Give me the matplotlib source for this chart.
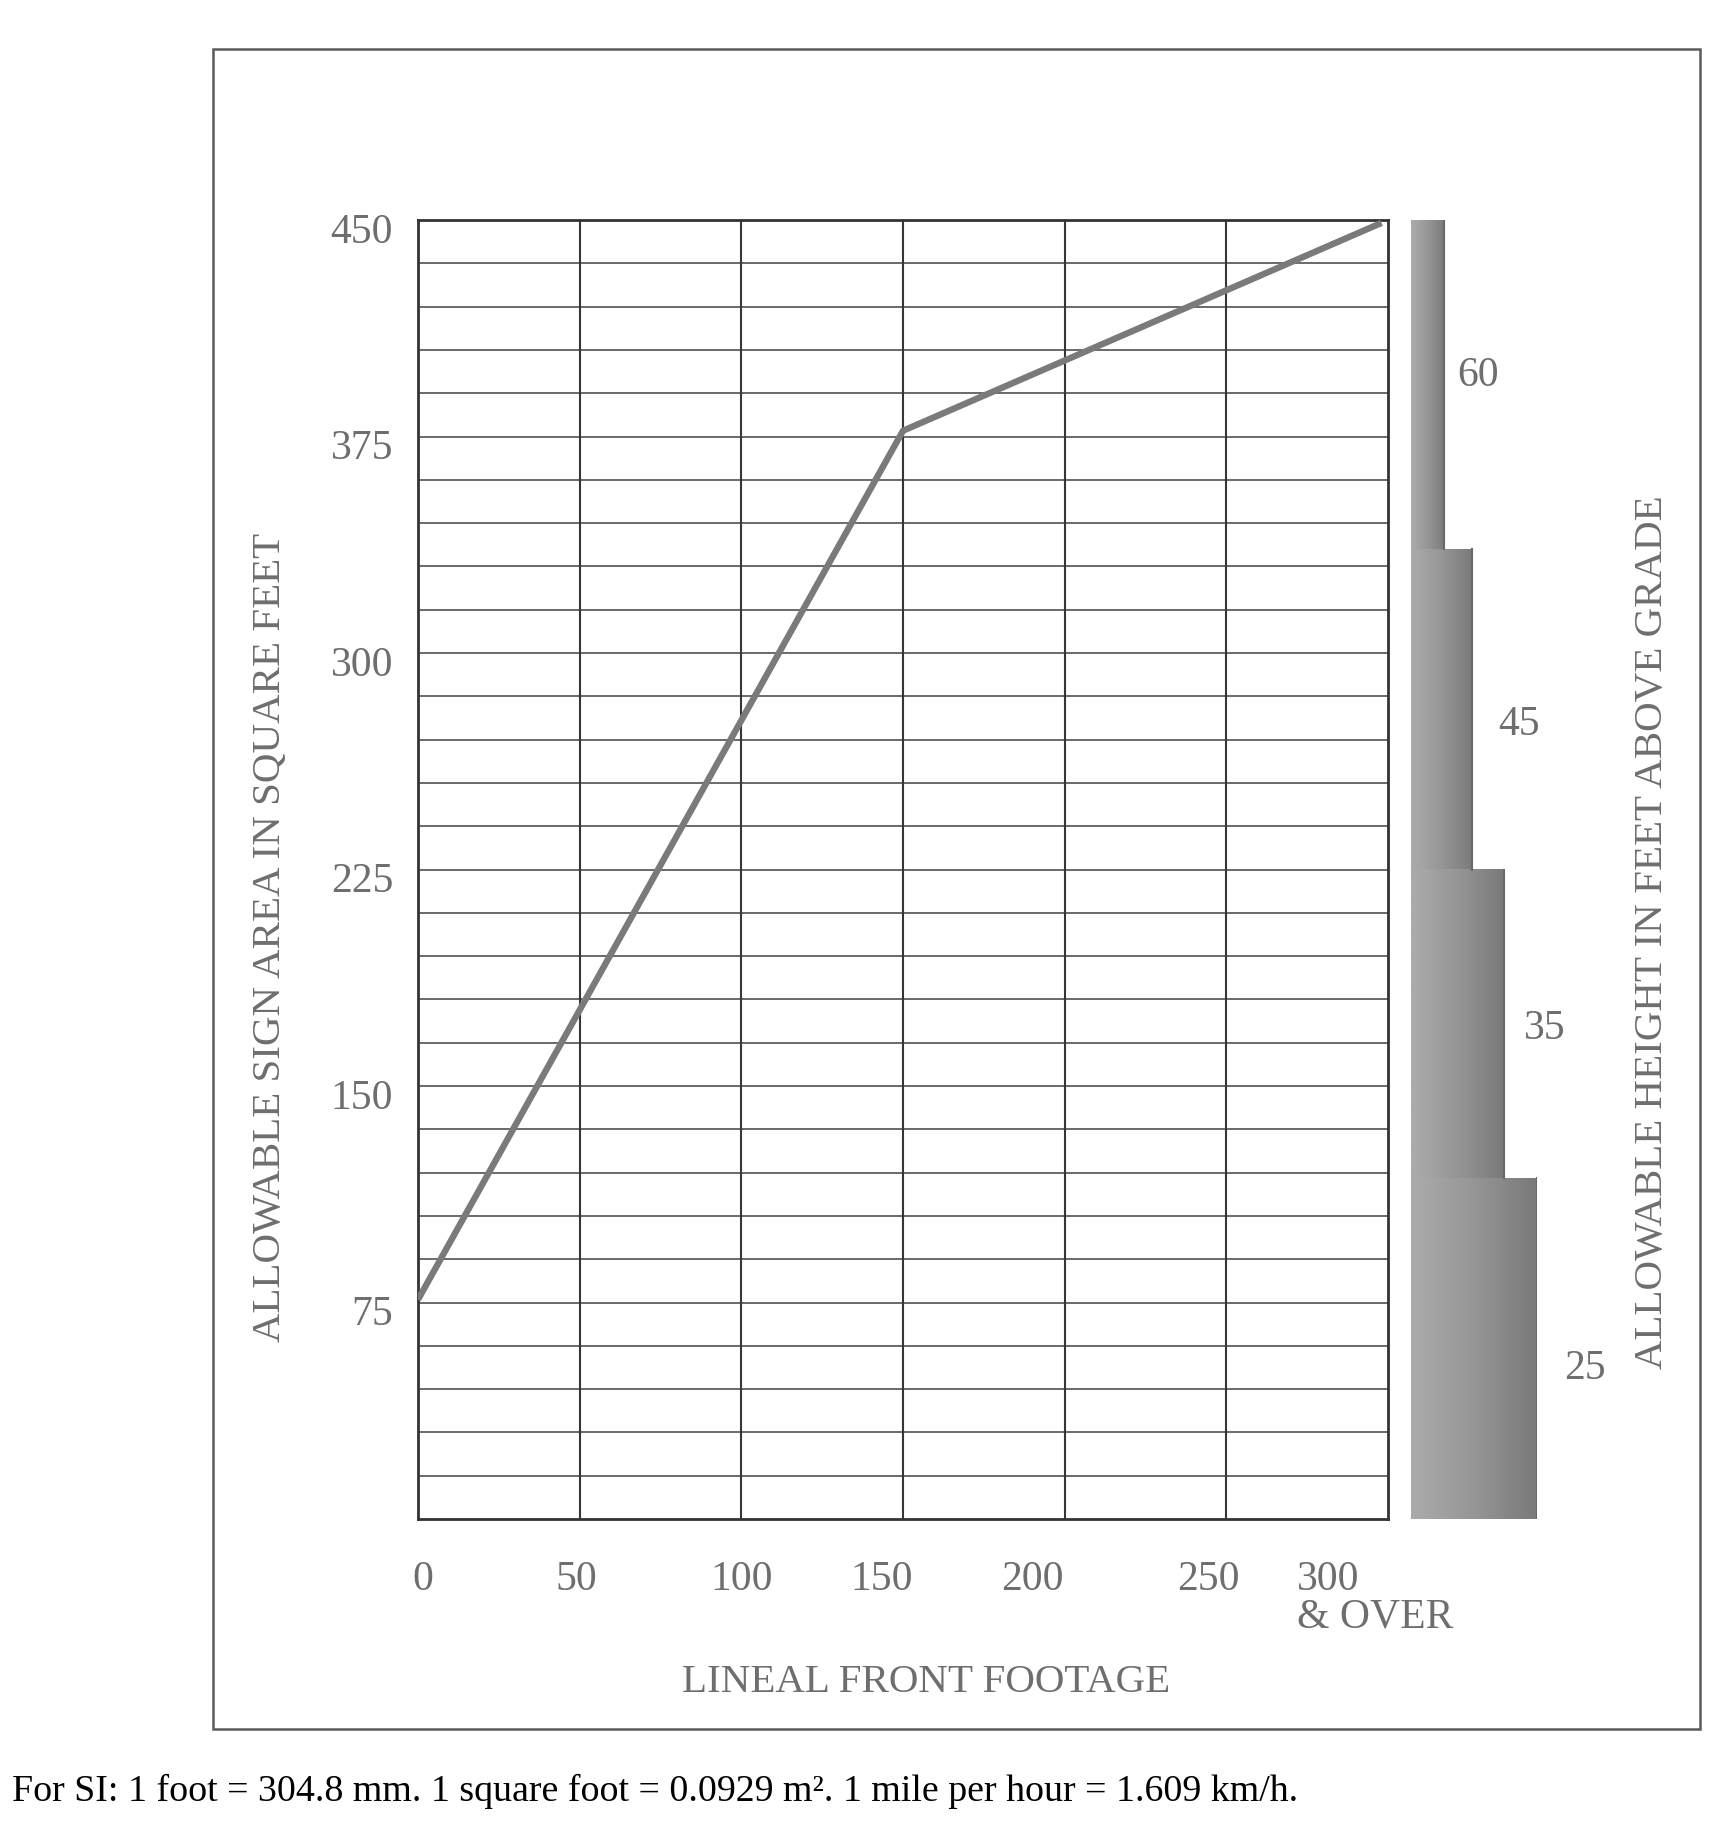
import numpy as np
import matplotlib
matplotlib.use("Agg")
import matplotlib.pyplot as plt
from matplotlib.patches import Rectangle
from matplotlib.colors import LinearSegmentedColormap
from matplotlib.transforms import ScaledTranslation

# ---------------- data ----------------
footage = [0, 150, 298]            # lineal front footage
sign_area = [76, 377, 449]         # allowable sign area (sq ft)

x_grid = [0, 50, 100, 150, 200, 250, 300]
x_labels = ["0", "50", "100", "150", "200", "250", "300\n& OVER"]
y_ticks = [75, 150, 225, 300, 375, 450]
y_labels = ["75", "150", "225", "300", "375", "450"]

height_ft = ["25", "35", "45", "60"]          # allowable height labels
zone_bottom = [0, 118, 225, 336]               # zone limits on sign-area scale
zone_top = [118, 225, 336, 450]
zone_extent = [4.0, 2.95, 1.95, 1.05]         # stepped bar widths

# ---------------- layout / style ----------------
label_gap = [0.86, 0.63, 0.82, 0.42]           # horizontal gap of height labels
label_y = [52, 170, 275, 396]                  # vertical spot of height labels
x_offsets_px = [5, -3, 0, -21, -32, -18, -91]

W, H, DPI = 1735, 1837, 100
plt.rcParams['font.family'] = ['Liberation Serif', 'DejaVu Serif']
TXT = '#6e6e6e'
GRID_H = '#646464'
GRID_V = '#363636'
FS_T = 30
FS_L = 29.5

fig = plt.figure(figsize=(W / DPI, H / DPI), dpi=DPI)
fig.patch.set_facecolor('white')

# outer border
fig.patches.append(Rectangle((213 / W, 1 - 1729 / H), (1700 - 213) / W, (1729 - 49) / H,
                             transform=fig.transFigure, fill=False,
                             edgecolor='#5a5a5a', lw=1.8, zorder=0))

# main axes
L, R, T, B = 418, 1388, 220, 1519
ax = fig.add_axes([L / W, 1 - B / H, (R - L) / W, (B - T) / H])
ax.set_xlim(0, 300)
ax.set_ylim(0, 450)

for yv in np.arange(15, 450, 15):
    ax.axhline(yv, color=GRID_H, lw=1.35, zorder=1)
for xv in x_grid[1:-1]:
    ax.axvline(xv, color=GRID_V, lw=1.5, zorder=1)
for s in ax.spines.values():
    s.set_color('#333333')
    s.set_linewidth(2.0)

ax.plot(footage, sign_area, color='#7a7a7a', lw=4.6, solid_capstyle='butt', zorder=3)

ax.set_xticks(x_grid)
ax.set_xticklabels(x_labels, fontsize=FS_T, color=TXT, linespacing=0.95)
ax.set_yticks(y_ticks)
ax.set_yticklabels(y_labels, fontsize=FS_T, color=TXT)
ax.tick_params(axis='both', length=0)
ax.tick_params(axis='x', pad=30)
ax.tick_params(axis='y', pad=18)

for lab, dx in zip(ax.get_xticklabels(), x_offsets_px):
    lab.set_transform(lab.get_transform() + ScaledTranslation(dx / DPI, 0, fig.dpi_scale_trans))
lab_last = ax.get_xticklabels()[-1]
lab_last.set_horizontalalignment('left')
lab_last.set_multialignment('left')
for lab in ax.get_yticklabels():
    lab.set_transform(lab.get_transform() + ScaledTranslation(0, -8 / DPI, fig.dpi_scale_trans))

# stepped height bar
BL, BR = 1411, 1537
axb = fig.add_axes([BL / W, 1 - B / H, (BR - BL) / W, (B - T) / H])
axb.set_xlim(0, 4.0)
axb.set_ylim(0, 450)
axb.axis('off')

cmap = LinearSegmentedColormap.from_list('g', ['#ababab', '#969696', '#7a7a7a'])
grad = np.linspace(0, 1, 64).reshape(1, -1)
for lo, hi, ext, lab, gap, ly in zip(zone_bottom, zone_top, zone_extent, height_ft,
                                     label_gap, label_y):
    rect = Rectangle((0, lo), ext, hi - lo, facecolor='none', edgecolor='none')
    axb.add_patch(rect)
    im = axb.imshow(grad, cmap=cmap, aspect='auto', extent=[0, ext, lo, hi],
                    interpolation='bilinear', zorder=2)
    im.set_clip_path(rect)
    axb.plot([ext, ext], [lo, hi], color='#686868', lw=1.5, zorder=3)
    axb.text(ext + gap, ly, lab, fontsize=FS_T, color=TXT,
             ha='left', va='center', clip_on=False)

# axis titles
fig.text(270 / W, 1 - 937 / H, "ALLOWABLE SIGN AREA IN SQUARE FEET", rotation=90,
         fontsize=FS_L, color=TXT, ha='center', va='center')
fig.text(1652 / W, 1 - 932 / H, "ALLOWABLE HEIGHT IN FEET ABOVE GRADE", rotation=90,
         fontsize=FS_L, color=TXT, ha='center', va='center')
fig.text(926 / W, 1 - 1682 / H, "LINEAL FRONT FOOTAGE",
         fontsize=FS_L, color=TXT, ha='center', va='center')

fig.text(12 / W, 1 - 1791 / H,
         "For SI: 1 foot = 304.8 mm. 1 square foot = 0.0929 m². 1 mile per hour = 1.609 km/h.",
         fontsize=27.3, color='black', ha='left', va='center')

fig.savefig('out.png', dpi=DPI, facecolor='white')
